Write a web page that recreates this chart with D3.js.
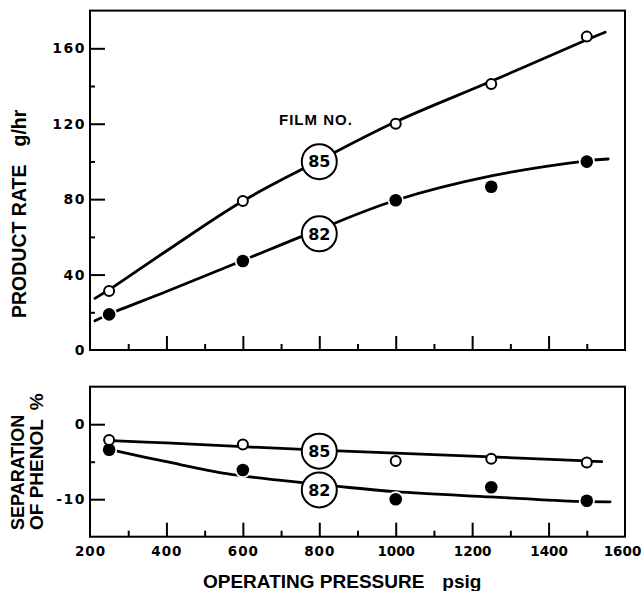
<!DOCTYPE html>
<html>
<head>
<meta charset="utf-8">
<script src="https://cdn.jsdelivr.net/npm/d3@7"></script>
<style>
  html, body { margin: 0; padding: 0; background: #fff; }
  svg { display: block; }
</style>
</head>
<body>
<svg id="chart" width="643" height="591"></svg>
<script>
// ---------- data ----------
const pressures = [250, 600, 1000, 1250, 1500];          // psig
const rate85 = [31.3, 79, 120, 141.1, 166.2];             // g/hr, film 85 (open)
const rate82 = [18.9, 47.2, 79.4, 86.6, 99.9];            // g/hr, film 82 (filled)
const sep85 = [-2.1, -2.7, -4.9, -4.6, -5.1];             // %, film 85
const sep82 = [-3.4, -6.1, -10.0, -8.4, -10.2];           // %, film 82

// hand-drawn fitted curves [pressure, value]
const fitRate85 = [[213, 27.4], [250, 32], [400, 52.5], [600, 79], [800, 100.5], [1000, 121], [1250, 142.5], [1500, 164.5], [1548, 168.5]];
const fitRate82 = [[213, 15.5], [250, 19], [400, 31], [600, 47.5], [800, 64], [1000, 79.4], [1250, 92.3], [1500, 100.3], [1556, 101.3]];
const fitSep85 = [[255, -2.2], [400, -2.5], [600, -3.0], [800, -3.45], [1000, -3.85], [1250, -4.35], [1500, -4.9], [1539, -5.0]];
const fitSep82 = [[262, -3.5], [400, -5.0], [558, -6.6], [700, -7.5], [850, -8.3], [1000, -9.0], [1250, -9.7], [1480, -10.3], [1561, -10.35]];

// curve labels [pressure, value, text]
const rateLabels = [[800, 99.9, "85"], [800, 61.6, "82"]];
const sepLabels = [[800, -3.6, "85"], [800, -8.76, "82"]];

const xTickMajor = [200, 400, 600, 800, 1000, 1200, 1400, 1600];
const xTickMinor = [300, 500, 700, 900, 1100, 1300, 1500];
const xTickInner = [400, 600, 800, 1000, 1200, 1400];
const rateTicks = [0, 40, 80, 120, 160];
const rateTickMarks = [40, 80, 120, 160];
const rateMinor = [20, 60, 100, 140];
const sepTicks = [0, -10];
const sepMinor = [-5];

// ---------- layout ----------
const svg = d3.select("#chart");
const x = d3.scaleLinear().domain([200, 1600]).range([90, 625]);
const yTop = d3.scaleLinear().domain([0, 180]).range([350, 10.6]);
const yBot = d3.scaleLinear().domain([-15, 5]).range([536.7, 386.7]);

const titleFont = "'Liberation Sans', Arial, sans-serif";
const numFont = "'DejaVu Sans', sans-serif";

function panel(y, opts) {
  const g = svg.append("g");
  g.append("rect")
    .attr("x", x.range()[0]).attr("y", y.range()[1])
    .attr("width", x.range()[1] - x.range()[0])
    .attr("height", y.range()[0] - y.range()[1])
    .attr("fill", "none").attr("stroke", "#000").attr("stroke-width", 2);

  const xa = g.append("g").attr("transform", `translate(0,${y.range()[0]})`)
    .call(d3.axisBottom(x).tickValues(xTickInner).tickSize(-14).tickFormat(""));
  const xm = g.append("g").attr("transform", `translate(0,${y.range()[0]})`)
    .call(d3.axisBottom(x).tickValues(xTickMinor).tickSize(-6).tickFormat(""));
  [xa, xm].forEach(a => {
    a.select(".domain").remove();
    a.selectAll("line").attr("stroke", "#000").attr("stroke-width", 2);
  });

  const ya = g.append("g").attr("transform", `translate(${x.range()[0]},0)`)
    .call(d3.axisLeft(y).tickValues(opts.yMarks).tickSize(-15).tickFormat(""));
  const ym = g.append("g").attr("transform", `translate(${x.range()[0]},0)`)
    .call(d3.axisLeft(y).tickValues(opts.yMinor).tickSize(-5).tickFormat(""));
  [ya, ym].forEach(a => {
    a.select(".domain").remove();
    a.selectAll("line").attr("stroke", "#000").attr("stroke-width", 2);
  });
  const yl = g.append("g").attr("transform", `translate(${x.range()[0]},0)`)
    .call(d3.axisLeft(y).tickValues(opts.yLabels).tickSize(0).tickPadding(4)
      .tickFormat(d => d < 0 ? "-" + Math.abs(d) : String(d)));
  yl.select(".domain").remove();
  yl.selectAll("text").attr("font-family", numFont).attr("font-weight", "bold")
    .attr("font-size", 14).attr("letter-spacing", 1.5).attr("fill", "#000");
  return g;
}

panel(yTop, { yMarks: rateTickMarks, yMinor: rateMinor, yLabels: rateTicks });
panel(yBot, { yMarks: sepTicks, yMinor: sepMinor, yLabels: sepTicks });

// x tick labels under bottom panel
const xl = svg.append("g").attr("transform", `translate(0,${yBot.range()[0]})`)
  .call(d3.axisBottom(x).tickValues(xTickMajor).tickSize(0).tickPadding(10)
    .tickFormat(d3.format("d")));
xl.select(".domain").remove();
xl.selectAll("text")
  .attr("font-family", numFont).attr("font-weight", "bold")
  .attr("font-size", 13.5).attr("fill", "#000")
  .attr("letter-spacing", d => d >= 1000 ? 0 : 1)
  .attr("x", d => d === 1600 ? -3 : 0);

// ---------- curves & markers ----------
function drawSeries(y, fit85, fit82, v85, v82, labels) {
  const line = d3.line().x(d => x(d[0])).y(d => y(d[1])).curve(d3.curveCatmullRom.alpha(0.5));
  [fit85, fit82].forEach(f => {
    svg.append("path").attr("d", line(f)).attr("fill", "none")
      .attr("stroke", "#000").attr("stroke-width", 2.8).attr("stroke-linecap", "round");
  });
  labels.forEach(([p, v, t]) => {
    svg.append("circle").attr("cx", x(p)).attr("cy", y(v)).attr("r", 17.5)
      .attr("fill", "#fff").attr("stroke", "#000").attr("stroke-width", 2);
    svg.append("text").attr("x", x(p)).attr("y", y(v)).attr("dy", "0.36em")
      .attr("text-anchor", "middle").attr("font-family", numFont)
      .attr("font-size", 16).attr("font-weight", "bold").text(t);
  });
  // filled markers (film 82) with white halo
  svg.append("g").selectAll("circle").data(pressures).join("circle")
    .attr("cx", d => x(d)).attr("cy", (d, i) => y(v82[i])).attr("r", 6.3)
    .attr("fill", "#000").attr("stroke", "#fff").attr("stroke-width", 3.5);
  svg.append("g").selectAll("circle").data(pressures).join("circle")
    .attr("cx", d => x(d)).attr("cy", (d, i) => y(v82[i])).attr("r", 6.3)
    .attr("fill", "#000");
  // open markers (film 85)
  svg.append("g").selectAll("circle").data(pressures).join("circle")
    .attr("cx", d => x(d)).attr("cy", (d, i) => y(v85[i])).attr("r", 5)
    .attr("fill", "#fff").attr("stroke", "#000").attr("stroke-width", 2);
}
drawSeries(yTop, fitRate85, fitRate82, rate85, rate82, rateLabels);
drawSeries(yBot, fitSep85, fitSep82, sep85, sep82, sepLabels);

// ---------- texts ----------
svg.append("text").attr("x", 279).attr("y", 125)
  .attr("font-family", titleFont).attr("font-weight", "bold").attr("font-size", 15)
  .attr("letter-spacing", 1).text("FILM NO.");

const xt = svg.append("text").attr("x", 203).attr("y", 588)
  .attr("font-family", titleFont).attr("font-weight", "bold").attr("font-size", 19);
xt.append("tspan").text("OPERATING PRESSURE");
xt.append("tspan").attr("dx", 18).text("psig");

const yt = svg.append("text").attr("transform", "translate(26,318) rotate(-90)")
  .attr("font-family", titleFont).attr("font-weight", "bold").attr("font-size", 19.5);
yt.append("tspan").text("PRODUCT RATE");
yt.append("tspan").attr("dx", 18).text("g/hr");

svg.append("text").attr("transform", "translate(24,530) rotate(-90)")
  .attr("font-family", titleFont).attr("font-weight", "bold").attr("font-size", 18)
  .text("SEPARATION");
const yb = svg.append("text").attr("transform", "translate(43,530) rotate(-90)")
  .attr("font-family", titleFont).attr("font-weight", "bold").attr("font-size", 19);
yb.append("tspan").text("OF PHENOL");
yb.append("tspan").attr("dx", 9).text("%");
</script>
</body>
</html>
